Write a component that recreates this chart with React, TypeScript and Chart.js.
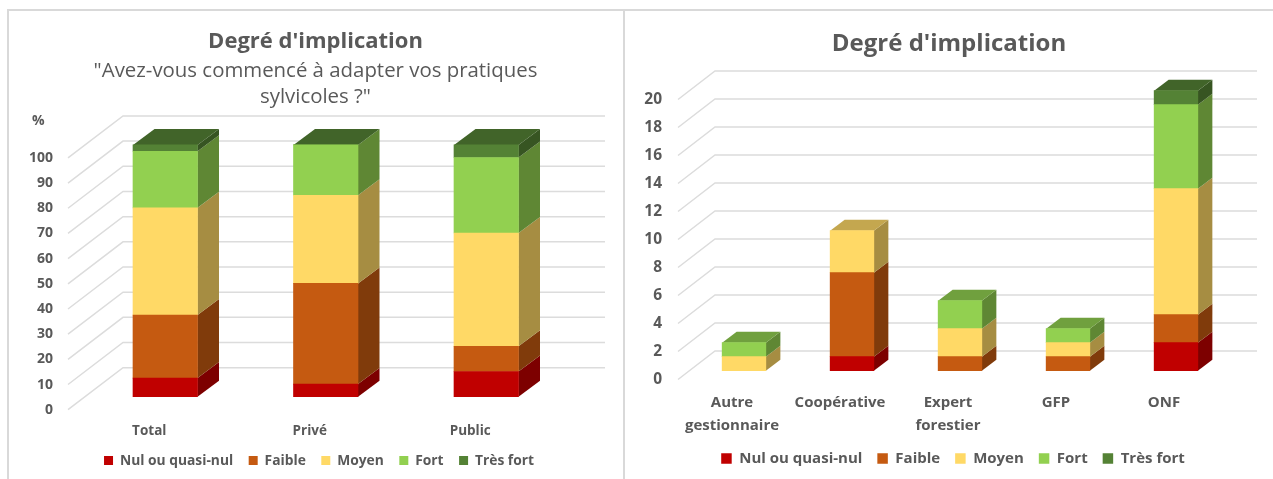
import React, { useEffect, useRef } from "react";
import { Chart, registerables } from "chart.js";

Chart.register(...registerables);

const SERIES = ["Nul ou quasi-nul", "Faible", "Moyen", "Fort", "Très fort"];
const COLORS = ["#C00000", "#C55A11", "#FFD966", "#92D050", "#548235"];

const LEFT_CATEGORIES = ["Total", "Privé", "Public"];
const LEFT_NUL = [7.4, 5, 10];
const LEFT_FAIBLE = [25, 40, 10];
const LEFT_MOYEN = [42.6, 35, 45];
const LEFT_FORT = [22.5, 20, 30];
const LEFT_TRES_FORT = [2.5, 0, 5];

const RIGHT_CATEGORIES = [["Autre", "gestionnaire"], "Coopérative", ["Expert", "forestier"], "GFP", "ONF"];
const RIGHT_NUL = [null, 1, null, null, 2];
const RIGHT_FAIBLE = [null, 6, 1, 1, 2];
const RIGHT_MOYEN = [1, 3, 2, 1, 9];
const RIGHT_FORT = [1, null, 2, 1, 6];
const RIGHT_TRES_FORT = [null, null, null, null, 1];

const GREY = "#595959";
const FAMILY = "'Open Sans', sans-serif";

function shade(hex: string, f: number) {
  const n = parseInt(hex.slice(1), 16);
  const c = [(n >> 16) & 255, (n >> 8) & 255, n & 255].map((v) => Math.round(v * f));
  return `rgb(${c[0]},${c[1]},${c[2]})`;
}

function poly(ctx: CanvasRenderingContext2D, pts: number[][], color: string) {
  ctx.beginPath();
  pts.forEach((p, i) => (i ? ctx.lineTo(p[0], p[1]) : ctx.moveTo(p[0], p[1])));
  ctx.closePath();
  ctx.fillStyle = color;
  ctx.fill();
}

type Look = {
  sideX: number; sideY: number; wallStart: number; wallEnd: number;
  barDX: number; barDY: number; barShift: number;
  legendDX: number; legendDY: number; unit?: string; unitX?: number; unitY?: number; unitFont?: string;
};

const look3d = (look: Look) => ({
  id: "look3d",
  afterLayout(chart: any) {
    const l = chart.legend;
    l.left += look.legendDX; l.right += look.legendDX;
    l.top += look.legendDY; l.bottom += look.legendDY;
  },
  beforeDatasetsDraw(chart: any) {
    const { ctx, scales, chartArea } = chart;
    const y = scales.y;
    ctx.save();
    ctx.strokeStyle = "#dcdcdc";
    ctx.lineWidth = 1.5;
    y.ticks.forEach((t: any) => {
      const p = y.getPixelForValue(t.value);
      ctx.beginPath();
      ctx.moveTo(chartArea.left + look.wallStart, p);
      ctx.lineTo(chartArea.left + look.wallStart + look.sideX, p - look.sideY);
      ctx.lineTo(look.wallEnd, p - look.sideY);
      ctx.stroke();
    });
    if (look.unit) {
      ctx.fillStyle = GREY;
      ctx.font = look.unitFont;
      ctx.textAlign = "left";
      ctx.textBaseline = "middle";
      ctx.fillText(look.unit, look.unitX, look.unitY);
    }
    ctx.restore();

    ctx.save();
    ctx.translate(0, look.barShift);
    const n = chart.data.labels.length;
    for (let c = 0; c < n; c++) {
      let topEl: any = null;
      let topColor = "";
      chart.data.datasets.forEach((ds: any, d: number) => {
        if (ds.data[c] === null) return;
        const el = chart.getDatasetMeta(d).data[c];
        const xr = el.x + el.width / 2;
        poly(ctx, [
          [xr, el.y], [xr + look.barDX, el.y - look.barDY],
          [xr + look.barDX, el.base - look.barDY], [xr, el.base],
        ], shade(COLORS[d], 0.65));
        topEl = el;
        topColor = COLORS[d];
      });
      if (topEl) {
        const xl = topEl.x - topEl.width / 2;
        const xr = topEl.x + topEl.width / 2;
        poly(ctx, [
          [xl, topEl.y], [xl + look.barDX, topEl.y - look.barDY],
          [xr + look.barDX, topEl.y - look.barDY], [xr, topEl.y],
        ], shade(topColor, 0.77));
      }
    }
  },
  afterDatasetsDraw(chart: any) {
    chart.ctx.restore();
  },
});

function makeDatasets(rows: (number | null)[][], barThickness: number) {
  return rows.map((data, i) => ({
    label: SERIES[i],
    data,
    backgroundColor: COLORS[i],
    borderWidth: 0,
    barThickness,
    clip: false as any,
  }));
}

function baseOptions(p: {
  padding: any; yWidth: number; yPad: number; yMax: number; yStep: number; xHeight: number; xPad: number;
  xOffset: number; xFont: any; yFont: any; legendSize: number; legendBox: number; legendGap: number; title: any; subtitle: any;
}): any {
  return {
    animation: false,
    responsive: false,
    layout: { padding: p.padding },
    plugins: {
      title: p.title,
      subtitle: p.subtitle,
      tooltip: { enabled: false },
      legend: {
        position: "bottom",
        labels: {
          boxWidth: p.legendBox, boxHeight: p.legendBox, padding: p.legendGap, color: GREY,
          font: { family: FAMILY, size: p.legendSize, weight: "bold" },
        },
      },
    },
    scales: {
      x: {
        stacked: true,
        offset: true,
        grid: { display: false, drawTicks: false },
        border: { display: false },
        afterFit: (s: any) => { s.height = p.xHeight; s._computeLabelArea = () => undefined; },
        ticks: { color: GREY, font: p.xFont, padding: p.xPad, labelOffset: p.xOffset, maxRotation: 0, autoSkip: false },
      },
      y: {
        stacked: true,
        min: 0,
        max: p.yMax,
        grid: { display: false, drawTicks: false },
        border: { display: false },
        afterFit: (s: any) => { s.width = p.yWidth; s._computeLabelArea = () => undefined; },
        ticks: { color: GREY, font: p.yFont, padding: p.yPad, stepSize: p.yStep },
      },
    },
  };
}

export default function App() {
  const leftRef = useRef<HTMLCanvasElement>(null);
  const rightRef = useRef<HTMLCanvasElement>(null);

  useEffect(() => {
    const left = new Chart(leftRef.current!, {
      type: "bar",
      data: {
        labels: LEFT_CATEGORIES,
        datasets: makeDatasets([LEFT_NUL, LEFT_FAIBLE, LEFT_MOYEN, LEFT_FORT, LEFT_TRES_FORT], 64.5),
      },
      options: baseOptions({
        padding: { left: 55.5, right: 55.5, top: 29, bottom: 0 },
        yWidth: 20.5, yPad: 32, yMax: 100, yStep: 10, xHeight: 30, xPad: 13, xOffset: -16,
        xFont: { family: FAMILY, size: 13.5, weight: "bold" },
        yFont: { family: FAMILY, size: 14, weight: "bold" },
        legendSize: 13.8, legendBox: 9, legendGap: 15.5,
        title: {
          display: true, text: "Degré d'implication", color: GREY,
          font: { family: FAMILY, size: 22, weight: "bold" }, padding: { top: 0, bottom: 3 },
        },
        subtitle: {
          display: true, text: ["\"Avez-vous commencé à adapter vos pratiques", "sylvicoles ?\""], color: GREY,
          font: { family: FAMILY, size: 20.4, weight: "normal", lineHeight: 1.275 }, padding: { top: 0, bottom: 47.5 },
        },
      }),
      plugins: [look3d({
        sideX: 55, sideY: 42, wallStart: -17, wallEnd: 596, barDX: 21.5, barDY: 16, barShift: -13,
        legendDX: 3.5, legendDY: -1.5, unit: "%", unitX: 23, unitY: 121, unitFont: `bold 14px ${FAMILY}`,
      })],
    } as any);

    const right = new Chart(rightRef.current!, {
      type: "bar",
      data: {
        labels: RIGHT_CATEGORIES,
        datasets: makeDatasets([RIGHT_NUL, RIGHT_FAIBLE, RIGHT_MOYEN, RIGHT_FORT, RIGHT_TRES_FORT], 43.7),
      },
      options: baseOptions({
        padding: { left: 42, right: 42, top: 30, bottom: 0 },
        yWidth: 22, yPad: 28, yMax: 20, yStep: 2, xHeight: 59.5, xPad: 12, xOffset: -12,
        xFont: { family: FAMILY, size: 15, weight: "bold", lineHeight: 1.5 },
        yFont: { family: FAMILY, size: 15.5, weight: "bold" },
        legendSize: 15, legendBox: 10.5, legendGap: 15,
        title: {
          display: true, text: "Degré d'implication", color: GREY,
          font: { family: FAMILY, size: 24, weight: "bold" }, padding: { top: 0, bottom: 40.7 },
        },
        subtitle: { display: false },
      }),
      plugins: [look3d({
        sideX: 37, sideY: 28.5, wallStart: -12, wallEnd: 631, barDX: 14.5, barDY: 11, barShift: -8.8,
        legendDX: 4, legendDY: -3,
      })],
    } as any);

    return () => { left.destroy(); right.destroy(); };
  }, []);

  return (
    <div style={{ position: "absolute", left: 0, top: 0, width: 1273, height: 479, background: "#fff", overflow: "hidden" }}>
      <div style={{ position: "absolute", left: 7, top: 9, width: 1266, height: 2, background: "#d9d9d9" }} />
      <div style={{ position: "absolute", left: 7, top: 9, width: 2, height: 470, background: "#d9d9d9" }} />
      <div style={{ position: "absolute", left: 623, top: 9, width: 2, height: 470, background: "#d9d9d9" }} />
      <canvas ref={leftRef} width={613} height={479} style={{ position: "absolute", left: 9, top: 0, width: 613, height: 479 }} />
      <canvas ref={rightRef} width={646} height={479} style={{ position: "absolute", left: 626, top: 0, width: 646, height: 479 }} />
    </div>
  );
}
